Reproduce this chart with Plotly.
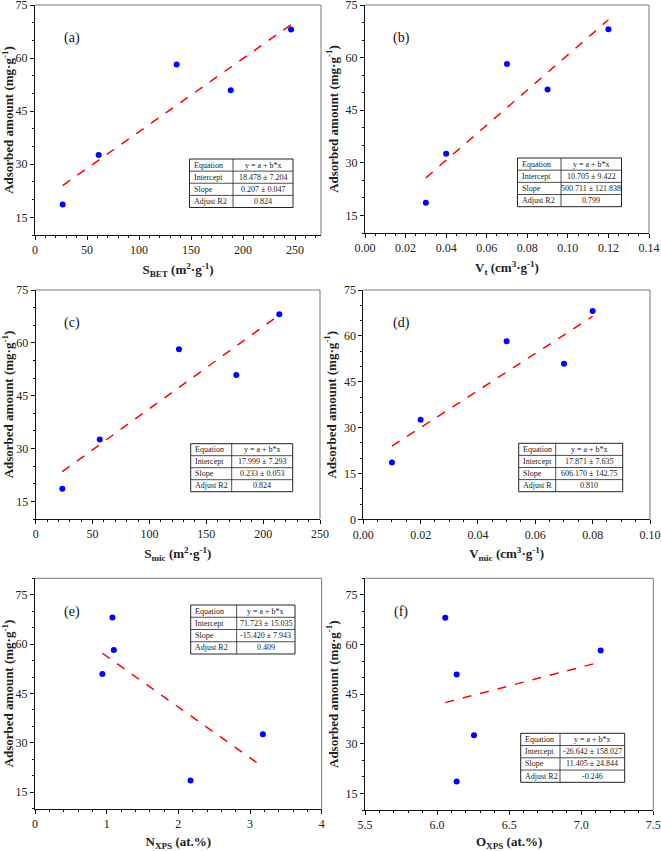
import plotly.graph_objects as go

W, H = 661, 851

# ---- data ----
adsorbed = [18.6, 32.6, 58.2, 50.9, 68.1]
s_bet = [26.6, 61.2, 136.2, 188.2, 246.2]
v_t = [0.03, 0.04, 0.07, 0.09, 0.12]
s_mic = [23.4, 56.3, 126.0, 176.4, 214.2]
v_mic = [0.01, 0.02, 0.05, 0.07, 0.08]
n_xps = [2.17, 3.18, 1.10, 0.94, 1.08]
o_xps = [6.136, 6.256, 7.135, 6.136, 6.057]

intercepts = [18.478, 10.705, 17.999, 17.871, 71.723, -26.642]
slopes = [0.207, 500.711, 0.233, 606.170, -15.420, 11.405]
intercept_txt = ["18.478 ± 7.204", "10.705 ± 9.422", "17.999 ± 7.293",
                 "17.871 ± 7.635", "71.723 ± 15.035", "-26.642 ± 158.027"]
slope_txt = ["0.207 ± 0.047", "500.711 ± 121.838", "0.233 ± 0.053",
             "606.170 ± 142.75", "-15.420 ± 7.943", "11.405 ± 24.844"]
r2_label = ["Adjust R2", "Adjust R2", "Adjust R2", "Adjust R", "Adjust R2", "Adjust R2"]
r2_txt = ["0.824", "0.799", "0.824", "0.810", "0.409", "-0.246"]
labels = ["(a)", "(b)", "(c)", "(d)", "(e)", "(f)"]
xtitles = ["S<sub>BET</sub> (m<sup>2</sup>·g<sup>-1</sup>)",
           "V<sub>t</sub> (cm<sup>3</sup>·g<sup>-1</sup>)",
           "S<sub>mic</sub> (m<sup>2</sup>·g<sup>-1</sup>)",
           "V<sub>mic</sub> (cm<sup>3</sup>·g<sup>-1</sup>)",
           "N<sub>XPS</sub> (at.%)",
           "O<sub>XPS</sub> (at.%)"]
xvals = [s_bet, v_t, s_mic, v_mic, n_xps, o_xps]
xranges = [[0, 275], [0, 0.14], [0, 250], [0, 0.10], [0, 4], [5.5, 7.5]]
xdticks = [50, 0.02, 50, 0.02, 1, 0.5]
xtick0 = [0, 0, 0, 0, 0, 5.5]
xfmt = ["d", ".2f", "d", ".2f", "d", ".1f"]
yranges = [[10, 75], [10, 75], [10, 75], [0, 75], [10, 80], [10, 80]]

# ---- layout geometry (pixels) ----
dom_px = [  # x0, x1, ytop, ybottom
    (35, 321, 5, 235), (365, 649, 5, 233),
    (35.7, 320, 290, 519), (363.3, 650, 290, 519.3),
    (35, 321.7, 578.3, 808.7), (365, 653.3, 578.3, 810),
]
table_px = [  # left, divider, right, top, bottom
    (189.5, 233, 293, 159, 207.5), (517.5, 561, 621.5, 158, 206.7),
    (190.7, 231.7, 292.7, 443.7, 491.7), (518.7, 555.7, 622.7, 443.3, 491.7),
    (190.7, 236.7, 295, 605, 654), (520.7, 560, 624.7, 733.3, 782.3),
]
label_px = [(71.7, 38), (401.7, 38), (72.3, 323.3), (401, 322.7), (72, 611.7), (400.7, 611.7)]


def px(x):
    return x / W


def py(y):
    return 1 - y / H


FONT = "Liberation Serif, Times New Roman, serif"
fig = go.Figure()
shapes, annots = [], []

for i in range(6):
    ax = "" if i == 0 else str(i + 1)
    xa, ya = "x" + ax, "y" + ax
    xs = xvals[i]
    fig.add_trace(go.Scatter(x=xs, y=adsorbed, mode="markers", xaxis=xa, yaxis=ya,
                             marker=dict(color="#0000FF", size=6), showlegend=False))
    x0, x1 = min(xs), max(xs)
    fig.add_trace(go.Scatter(x=[x0, x1], y=[intercepts[i] + slopes[i] * x0, intercepts[i] + slopes[i] * x1],
                             mode="lines", xaxis=xa, yaxis=ya,
                             line=dict(color="#FF0000", width=1.5, dash="dash"), showlegend=False))
    d = dom_px[i]
    common = dict(showgrid=False, zeroline=False, showline=True, linecolor="#111", linewidth=1,
                  mirror=False, ticks="outside", ticklen=4, tickcolor="#111", automargin=False,
                  ticklabeloverflow="allow",
                  minor=dict(ticks="outside", ticklen=2, tickcolor="#111", showgrid=False),
                  tickfont=dict(family=FONT, size=12, color="#222"))
    fig.layout["xaxis" + ax] = dict(
        domain=[px(d[0]), px(d[1])], anchor=ya, range=xranges[i], tick0=xtick0[i], dtick=xdticks[i],
        tickformat=xfmt[i],
        title=dict(text="<b>" + xtitles[i] + "</b>", font=dict(family=FONT, size=13, color="#222"), standoff=8),
        **common)
    fig.layout["yaxis" + ax] = dict(
        domain=[py(d[3]), py(d[2])], anchor=xa, range=yranges[i], tick0=0, dtick=15,
        title=dict(text="<b>Adsorbed amount (mg·g<sup>-1</sup>)</b>", font=dict(family=FONT, size=13, color="#222"), standoff=4),
        **common)

    # top and right frame (lighter grey, as in the reference)
    shapes.append(dict(type="line", xref=xa + " domain", yref=ya + " domain", x0=0, x1=1, y0=1, y1=1,
                       line=dict(color="#777", width=1)))
    shapes.append(dict(type="line", xref=xa + " domain", yref=ya + " domain", x0=1, x1=1, y0=0, y1=1,
                       line=dict(color="#777", width=1)))

    # panel label
    lx, ly = label_px[i]
    annots.append(dict(x=px(lx), y=py(ly), xref="paper", yref="paper", text=labels[i], showarrow=False,
                       xanchor="center", yanchor="middle",
                       font=dict(family=FONT, size=14, color="#111")))

    # table
    tl, tdv, tr, tt, tb = table_px[i]
    shapes.append(dict(type="rect", xref="paper", yref="paper", x0=px(tl), x1=px(tr), y0=py(tb), y1=py(tt),
                       line=dict(color="#222", width=1), fillcolor="white"))
    shapes.append(dict(type="line", xref="paper", yref="paper", x0=px(tdv), x1=px(tdv), y0=py(tb), y1=py(tt),
                       line=dict(color="#222", width=0.8)))
    rh = (tb - tt) / 4
    for r in range(1, 4):
        yy = tt + r * rh
        shapes.append(dict(type="line", xref="paper", yref="paper", x0=px(tl), x1=px(tr), y0=py(yy), y1=py(yy),
                           line=dict(color="#222", width=0.8)))
    rows = [("Equation", "y = a + b*x"), ("Intercept", intercept_txt[i]),
            ("Slope", slope_txt[i]), (r2_label[i], r2_txt[i])]
    for r, (k, v) in enumerate(rows):
        yc = tt + (r + 0.5) * rh
        annots.append(dict(x=px(tl + 2), y=py(yc), xref="paper", yref="paper", text=k, showarrow=False,
                           xanchor="left", yanchor="middle", font=dict(family=FONT, size=8, color="#222")))
        annots.append(dict(x=px((tdv + tr) / 2), y=py(yc), xref="paper", yref="paper", text=v, showarrow=False,
                           xanchor="center", yanchor="middle", font=dict(family=FONT, size=8, color="#222")))

fig.update_layout(width=W, height=H, margin=dict(l=0, r=0, t=0, b=0),
                  plot_bgcolor="white", paper_bgcolor="white", shapes=shapes, annotations=annots)
fig.write_html("out.html", config={"displayModeBar": False},
               post_script="document.body.style.margin='0px';document.body.style.overflow='hidden';")
